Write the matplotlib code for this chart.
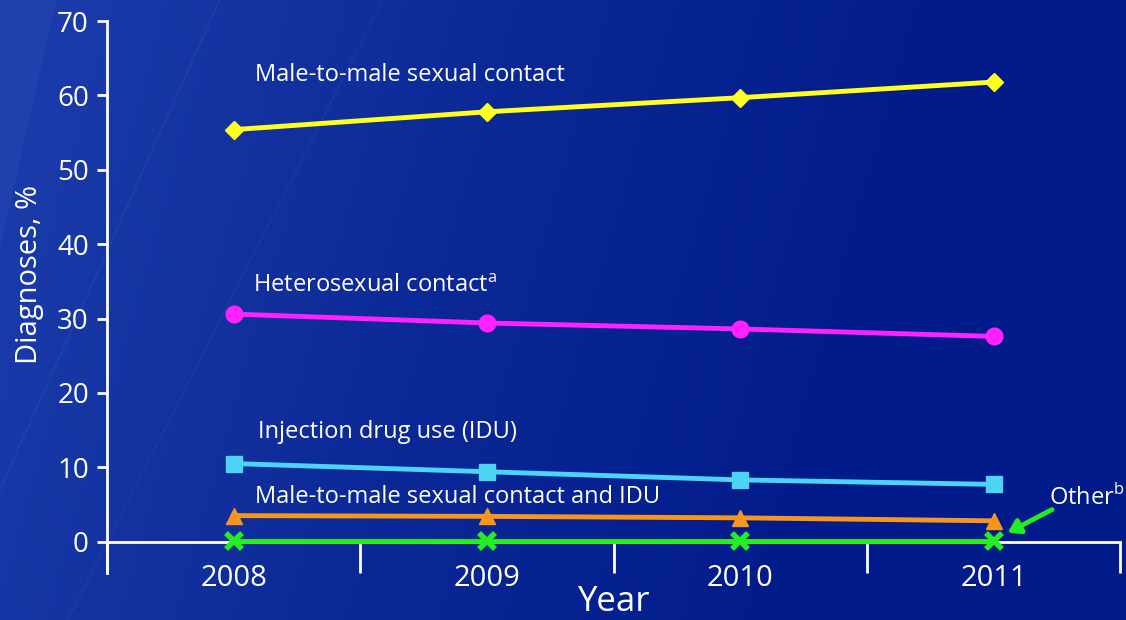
import numpy as np
import matplotlib.pyplot as plt
from matplotlib.colors import LinearSegmentedColormap

plt.rcParams['font.family'] = ['Open Sans', 'DejaVu Sans']
plt.rcParams['mathtext.fontset'] = 'custom'
plt.rcParams['mathtext.rm'] = 'Open Sans'

# Data (percent of diagnoses)
years = ['2008', '2009', '2010', '2011']
msm = [55.4, 57.8, 59.7, 61.8]
hetero = [30.6, 29.4, 28.6, 27.6]
idu = [10.5, 9.4, 8.3, 7.7]
msm_idu = [3.5, 3.4, 3.2, 2.8]
other = [0.1, 0.1, 0.1, 0.1]

fig = plt.figure(figsize=(11.26, 6.2), dpi=100, facecolor='#0a2694')

# slide background: dark navy, a bit lighter towards the left
bg_ax = fig.add_axes([0, 0, 1, 1], zorder=-1)
gx, gy = np.meshgrid(np.linspace(0, 1, 300), np.linspace(0, 1, 200))
grad = np.clip(1.1 - 1.3 * gx - 0.2 * gy, 0, 1)
cmap = LinearSegmentedColormap.from_list('slide', ['#021b8b', '#0b2996', '#1a3aa9'])
bg_ax.imshow(grad, cmap=cmap, extent=[0, 1, 0, 1], origin='upper', aspect='auto')
# faint diagonal streaks
bg_ax.plot([0.195, 0.0], [1.0, 0.21], color='#4a6ac8', lw=1.0, alpha=0.2)
bg_ax.plot([0.34, 0.06], [1.0, 0.0], color='#4a6ac8', lw=1.0, alpha=0.15)
bg_ax.fill([0.0, 0.05, 0.0], [1.0, 1.0, 0.6], color='#3a5cc0', alpha=0.2, lw=0)
bg_ax.set_xlim(0, 1)
bg_ax.set_ylim(0, 1)
bg_ax.axis('off')

ax = fig.add_axes([0.095, 0.076, 0.9, 0.89])
ax.set_facecolor('none')

x = np.arange(len(years)) + 0.5
white = 'white'

ax.plot(x, other, color='#22ee22', lw=3.5, marker='x', ms=11, mew=4, zorder=3)
ax.plot(x, msm_idu, color='#f7961e', lw=3.5, marker='^', ms=12, zorder=4)
ax.plot(x, idu, color='#4dd4f5', lw=3.5, marker='s', ms=12, zorder=4)
ax.plot(x, hetero, color='#ff22ff', lw=3.5, marker='o', ms=12, zorder=4)
ax.plot(x, msm, color='#ffff22', lw=3.5, marker='D', ms=9, zorder=4)

lab_kw = dict(color=white, fontsize=17, va='center', ha='left')
ax.text(0.584, 62.8, 'Male-to-male sexual contact', **lab_kw)
ax.text(0.576, 34.4, r'Heterosexual contact$^{\mathrm{a}}$', **lab_kw)
ax.text(0.596, 14.8, 'Injection drug use (IDU)', **lab_kw)
ax.text(0.584, 6.0, 'Male-to-male sexual contact and IDU', **lab_kw)
ax.text(3.72, 5.9, r'Other$^{\mathrm{b}}$', **lab_kw)
ax.annotate('', xy=(3.555, 1.2), xytext=(3.73, 4.3),
            arrowprops=dict(arrowstyle='-|>,head_length=0.7,head_width=0.45',
                            color='#22ee22', lw=3.5, shrinkA=0, shrinkB=0))

ax.set_xlim(0, 4)
ax.set_ylim(-4.2, 70)
ax.set_yticks(np.arange(0, 71, 10))
ax.set_xticks(np.arange(0, 5))
ax.set_xticklabels([])
ax.set_xticks(x, minor=True)
ax.set_xticklabels(years, minor=True)

for s in ['top', 'right']:
    ax.spines[s].set_visible(False)
ax.spines['bottom'].set_position(('data', 0))
for s in ['left', 'bottom']:
    ax.spines[s].set_color(white)
    ax.spines[s].set_linewidth(2)

ax.tick_params(axis='y', colors=white, labelsize=20, length=7, width=2, pad=6)
ax.tick_params(axis='x', which='major', colors=white, length=22, width=2, direction='out')
ax.tick_params(axis='x', which='minor', colors=white, length=0, labelsize=21, pad=16)

ax.set_ylabel('Diagnoses, %', color=white, fontsize=21)
ax.yaxis.set_label_coords(-0.062, 0.54)
ax.set_xlabel('Year', color=white, fontsize=25)
ax.xaxis.set_label_coords(0.5, -0.022)

fig.savefig('out.png', dpi=100)
